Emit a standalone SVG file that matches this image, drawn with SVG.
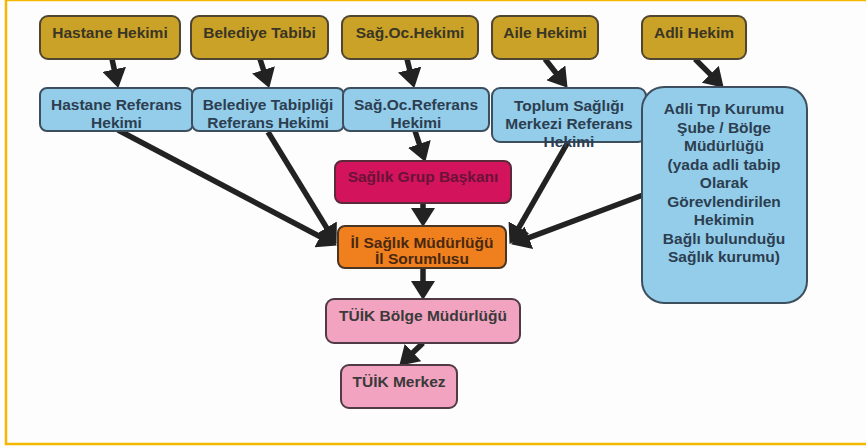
<svg xmlns="http://www.w3.org/2000/svg" width="866" height="448" viewBox="0 0 866 448">
<style>
text{font-family:"Liberation Sans",Arial,sans-serif;font-weight:bold;font-size:15.5px;text-anchor:middle}
.gold rect{fill:#C9A227;stroke:#4f4530;stroke-width:2}
.gold text{fill:#3b3525}
.blue rect{fill:#93CDEA;stroke:#3d4f5f;stroke-width:2}
.blue text{fill:#2c3e50}
.mag rect{fill:#D3145C;stroke:#5a2a3a;stroke-width:2}
.mag text{fill:#6a1238}
.org rect{fill:#F0801E;stroke:#4a3525;stroke-width:2}
.org text{fill:#4a2810}
.pink rect{fill:#F2A3BF;stroke:#4f3a45;stroke-width:2}
.pink text{fill:#3a3a3a}
#connectors line{stroke:#222;stroke-width:5.5;marker-end:url(#ah)}
</style>
<defs>
<marker id="ah" markerUnits="userSpaceOnUse" markerWidth="22" markerHeight="24" refX="4" refY="12" orient="auto" viewBox="0 0 22 24">
<path d="M0,0 L19,12 L0,24 z" fill="#222"/>
</marker>
</defs>
<rect x="0" y="0" width="866" height="448" fill="#FDFDFD"/>
<rect x="6" y="0" width="875" height="444" fill="none" stroke="#F5B800" stroke-width="2.5"/>
<g id="connectors">
<line x1="112" y1="59" x2="115.1" y2="73.3"/>
<line x1="260" y1="59" x2="264.7" y2="73.7"/>
<line x1="407" y1="59" x2="410.6" y2="73.4"/>
<line x1="545" y1="59" x2="558.3" y2="76"/>
<line x1="695" y1="59" x2="713.1" y2="77.1"/>
<line x1="415" y1="131" x2="420.6" y2="147.7"/>
<line x1="423" y1="203" x2="423" y2="212"/>
<line x1="118" y1="130" x2="323.6" y2="238.5"/>
<line x1="268" y1="132" x2="328.7" y2="231.1"/>
<line x1="568" y1="142" x2="517" y2="230.9"/>
<line x1="643" y1="195" x2="525.1" y2="239.1"/>
<line x1="423" y1="268" x2="423" y2="285"/>
<line x1="423" y1="343" x2="410.1" y2="355.3"/>
</g>
<g id="hastane-hekimi" class="gold"><rect x="40" y="16" width="140" height="43" rx="8"/><text x="110" y="38">Hastane Hekimi</text></g>
<g id="belediye-tabibi" class="gold"><rect x="191" y="16" width="137" height="43" rx="8"/><text x="259.5" y="38">Belediye Tabibi</text></g>
<g id="sag-oc-hekimi" class="gold"><rect x="342" y="16" width="136" height="43" rx="8"/><text x="410" y="38">Sağ.Oc.Hekimi</text></g>
<g id="aile-hekimi" class="gold"><rect x="492" y="16" width="106" height="43" rx="8"/><text x="545" y="38">Aile Hekimi</text></g>
<g id="adli-hekim" class="gold"><rect x="642" y="16" width="104" height="43" rx="8"/><text x="694" y="38">Adli Hekim</text></g>
<g id="hastane-referans" class="blue"><rect x="40" y="88" width="153" height="43" rx="7"/><text x="116.5" y="110">Hastane Referans</text><text x="116.5" y="128">Hekimi</text></g>
<g id="belediye-referans" class="blue"><rect x="192" y="88" width="152" height="43" rx="7"/><text x="268" y="110">Belediye Tabipliği</text><text x="268" y="128">Referans Hekimi</text></g>
<g id="sag-oc-referans" class="blue"><rect x="343" y="88" width="146" height="43" rx="7"/><text x="416" y="110">Sağ.Oc.Referans</text><text x="416" y="128">Hekimi</text></g>
<g id="toplum-sagligi" class="blue"><rect x="492" y="88" width="154" height="54" rx="8"/><text x="569" y="111">Toplum Sağlığı</text><text x="569" y="129">Merkezi Referans</text><text x="569" y="147">Hekimi</text></g>
<g id="adli-tip" class="blue"><rect x="642" y="87" width="165" height="216" rx="22"/>
<text x="724" y="114">Adli Tıp Kurumu</text>
<text x="724" y="132.5">Şube / Bölge</text>
<text x="724" y="151">Müdürlüğü</text>
<text x="724" y="169.5">(yada adli tabip</text>
<text x="724" y="188">Olarak</text>
<text x="724" y="206.5">Görevlendirilen</text>
<text x="724" y="225">Hekimin</text>
<text x="724" y="243.5">Bağlı bulunduğu</text>
<text x="724" y="262">Sağlık kurumu)</text>
</g>
<g id="saglik-grup" class="mag"><rect x="335" y="161" width="176" height="42" rx="7"/><text x="423" y="182">Sağlık Grup Başkanı</text></g>
<g id="il-saglik" class="org"><rect x="338" y="226" width="168" height="42" rx="7"/><text x="422" y="248">İl Sağlık Müdürlüğü</text><text x="422" y="263.5">İl Sorumlusu</text></g>
<g id="tuik-bolge" class="pink"><rect x="326" y="299" width="194" height="44" rx="8"/><text x="423" y="321">TÜİK Bölge Müdürlüğü</text></g>
<g id="tuik-merkez" class="pink"><rect x="341" y="365" width="116" height="43" rx="8"/><text x="399" y="387">TÜİK Merkez</text></g>
</svg>
